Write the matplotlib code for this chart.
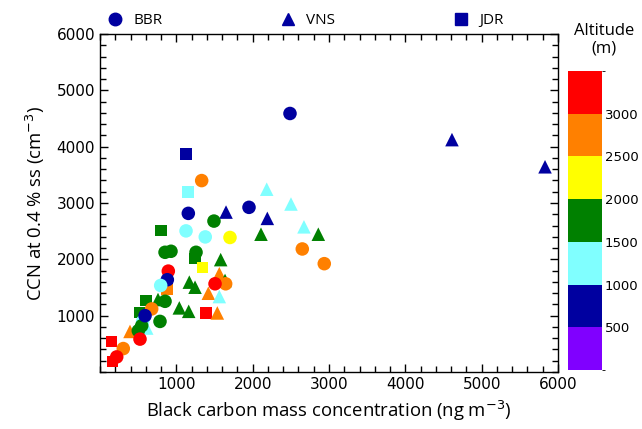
import matplotlib
matplotlib.use("Agg")
import matplotlib.pyplot as plt
import numpy as np
from matplotlib.colors import ListedColormap, BoundaryNorm
from matplotlib.lines import Line2D
from matplotlib.ticker import MultipleLocator, FixedLocator

# ---------------- data ----------------
bbr_bc = [2489, 1332, 1952, 1157, 1493, 1127, 1379, 1703, 2650, 2938,
          852, 930, 1258, 895, 882, 795, 1646, 1507, 852, 677,
          559, 786, 546, 502, 524, 305, 219, 590]
bbr_ccn = [4589, 3398, 2923, 2816, 2679, 2505, 2398, 2388, 2184, 1923,
           2125, 2143, 2125, 1791, 1638, 1536, 1566, 1566, 1255, 1120,
           898, 898, 821, 732, 584, 416, 268, 1000]
bbr_alt = [750, 2750, 750, 750, 1750, 1250, 1250, 2250, 2750, 2750,
           1750, 1750, 1750, 3250, 750, 1250, 2750, 3250, 1750, 2750,
           1250, 1750, 1750, 1750, 3250, 2750, 3250, 750]

vns_bc = [4611, 5830, 2184, 2502, 1651, 2192, 2672, 2860, 2109, 1581,
          1563, 1638, 1170, 1245, 1419, 1563, 1039, 1162, 1537, 760,
          393, 612]
vns_ccn = [4125, 3643, 3245, 2982, 2839, 2727, 2577, 2446, 2446, 1995,
           1745, 1625, 1595, 1505, 1398, 1339, 1138, 1077, 1048, 1286,
           720, 780]
vns_alt = [750, 750, 1250, 1250, 750, 750, 1250, 1750, 1750, 1750,
           2750, 1750, 1750, 1750, 2750, 1250, 1750, 1750, 2750, 1750,
           2750, 1250]

jdr_bc = [1127, 1149, 799, 1245, 1345, 1389, 603, 515, 153, 166, 874, 874]
jdr_ccn = [3875, 3191, 2513, 2018, 1852, 1048, 1268, 1059, 541, 184, 1571, 1464]
jdr_alt = [750, 1250, 1750, 1750, 2250, 3250, 1750, 1750, 3250, 3250, 750, 2750]

alt_bounds = [0, 500, 1000, 1500, 2000, 2500, 3000, 3500]
alt_colors = ["#8000FF", "#0000A0", "#80FFFF", "#008000",
              "#FFFF00", "#FF8000", "#FF0000"]
cbar_ticks = [500, 1000, 1500, 2000, 2500, 3000]
x_ticks = [1000, 2000, 3000, 4000, 5000, 6000]
y_ticks = [1000, 2000, 3000, 4000, 5000, 6000]

# ---------------- plot ----------------
cmap = ListedColormap(alt_colors)
norm = BoundaryNorm(alt_bounds, cmap.N)

fig = plt.figure(figsize=(6.42, 4.29), dpi=100)
ax = fig.add_axes([100/642, 1-372/429, 458/642, 338/429])

kw = dict(cmap=cmap, norm=norm, edgecolors="none", zorder=3)
ax.scatter(jdr_bc, jdr_ccn, c=jdr_alt, marker="s", s=70, **kw)
ax.scatter(vns_bc, vns_ccn, c=vns_alt, marker="^", s=95, **kw)
sc = ax.scatter(bbr_bc, bbr_ccn, c=bbr_alt, marker="o", s=95, **kw)

ax.set_xlim(0, 6000)
ax.set_ylim(0, 6000)
ax.xaxis.set_major_locator(FixedLocator(x_ticks))
ax.yaxis.set_major_locator(FixedLocator(y_ticks))
ax.xaxis.set_minor_locator(MultipleLocator(200))
ax.yaxis.set_minor_locator(MultipleLocator(200))
ax.tick_params(which="both", direction="in", top=True, right=True,
               labelsize=11, width=1.0)
ax.tick_params(which="major", length=6)
ax.tick_params(which="minor", length=4)
for lab in ax.get_xticklabels() + ax.get_yticklabels():
    lab.set_family("DejaVu Sans")
for sp in ax.spines.values():
    sp.set_linewidth(1.0)

ax.set_xlabel("Black carbon mass concentration (ng m$^{-3}$)",
              fontsize=13.3, family="Open Sans", labelpad=5)
ax.set_ylabel("CCN at 0.4 % ss (cm$^{-3}$)",
              fontsize=13.3, family="Open Sans", labelpad=7)

handles = [
    Line2D([], [], ls="none", marker="o", color="#0000A0", markersize=9),
    Line2D([], [], ls="none", marker="^", color="#0000A0", markersize=9),
    Line2D([], [], ls="none", marker="s", color="#0000A0", markersize=8),
]
leg = ax.legend(handles, ["BBR", "VNS", "JDR"], ncol=3, loc="lower left",
                bbox_to_anchor=(0.0, 1.0), frameon=False,
                prop={"family": "Open Sans", "size": 11},
                handletextpad=0.6, columnspacing=7.6, borderaxespad=0.0,
                handlelength=1.2)

cax = fig.add_axes([568/642, 1-370/429, 34/642, 299/429])
cb = fig.colorbar(sc, cax=cax, boundaries=alt_bounds, ticks=cbar_ticks)
cb.outline.set_visible(False)
cax.tick_params(length=0, labelsize=9.5, pad=2)
for lab in cax.get_yticklabels():
    lab.set_family("DejaVu Sans")
fig.text(604/642, 1-40/429, "Altitude\n(m)", ha="center", va="center",
         fontsize=12, family="Open Sans", linespacing=1.1)

fig.savefig("out.png", dpi=100)
